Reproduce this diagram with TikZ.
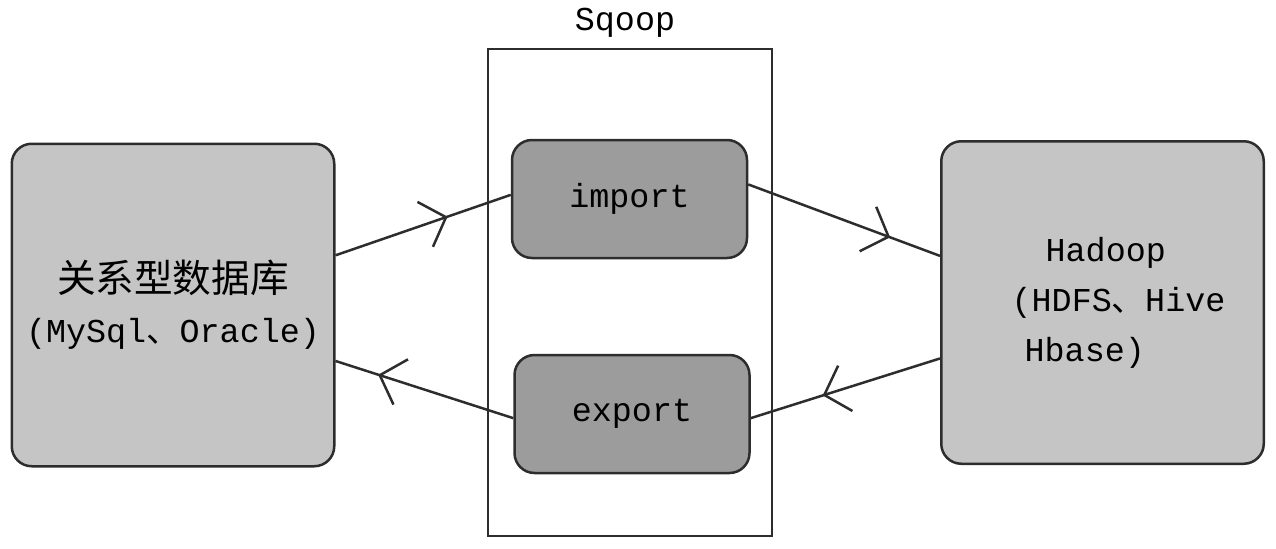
\documentclass[tikz,border=0pt]{standalone}
\usepackage{fontspec}
\setmainfont{Liberation Serif}
\setmonofont{Liberation Mono}
\newfontfamily\cjk{Noto Sans CJK SC}
\usetikzlibrary{arrows.meta,decorations.markings}
\definecolor{storegray}{RGB}{197,197,197}
\definecolor{opgray}{RGB}{156,156,156}
\definecolor{inkgray}{RGB}{45,45,45}
\newcommand{\monotext}{\ttfamily\fontsize{19}{28.5}\selectfont}
\newcommand{\cjktext}{\cjk\fontsize{22}{28.5}\selectfont}
\begin{document}
\begin{tikzpicture}[-,inkgray,line width=0.05cm,font=\monotext,draw=inkgray,>={Straight Barb[length=0.44cm,width=0.95cm]}]
	\tikzstyle{every node}=[text=black,inner sep=0pt,align=center]
	\tikzstyle{ST} =[draw=inkgray,fill=storegray,rounded corners=0.4cm,minimum width=6.45cm,minimum height=6.45cm] % ST = data store node
	\tikzstyle{OP} =[draw=inkgray,fill=opgray,rounded corners=0.4cm,minimum width=4.7cm,minimum height=2.36cm]     % OP = sqoop operation node
	\tikzset{flow/.style={decoration={markings,mark=at position #1 with {\arrow{>}}},postaction={decorate}}}
	\useasboundingbox (0,0) rectangle (25.52,10.96);
	% sqoop frame
	\node(sqoop)[draw=inkgray,minimum width=5.68cm,minimum height=9.74cm] at (12.6,5.11) {};
	\node(sqooplabel) at (12.5,10.5) {Sqoop};
	\node(import)[OP] at (12.59,6.98) {\raisebox{-0.15cm}{import}};
	\node(export)[OP] at (12.64,2.68) {\raisebox{-0.1cm}{export}};
	% stores
	\node(db)[ST] at (3.46,4.86) {{\cjktext 关系型数据库}\\(MySql{\cjk 、}Oracle)};
	\node(hadoop)[ST,align=left] at (22.05,4.91) {\hspace*{1.32cm}Hadoop\\\hspace*{0.64cm}(HDFS{\cjk 、}Hive\\\hspace*{0.9cm}Hbase)};
	% import flow
	\draw[flow=0.64](db.17.4)--(import.178.5);
	\draw[flow=0.74](import.7.8)--(hadoop.164.7);
	% export flow
	\draw[flow=0.62](hadoop.199.2)--(export.358.5);
	\draw[flow=0.76](export.182.9)--(db.341);
\end{tikzpicture}
\end{document}
